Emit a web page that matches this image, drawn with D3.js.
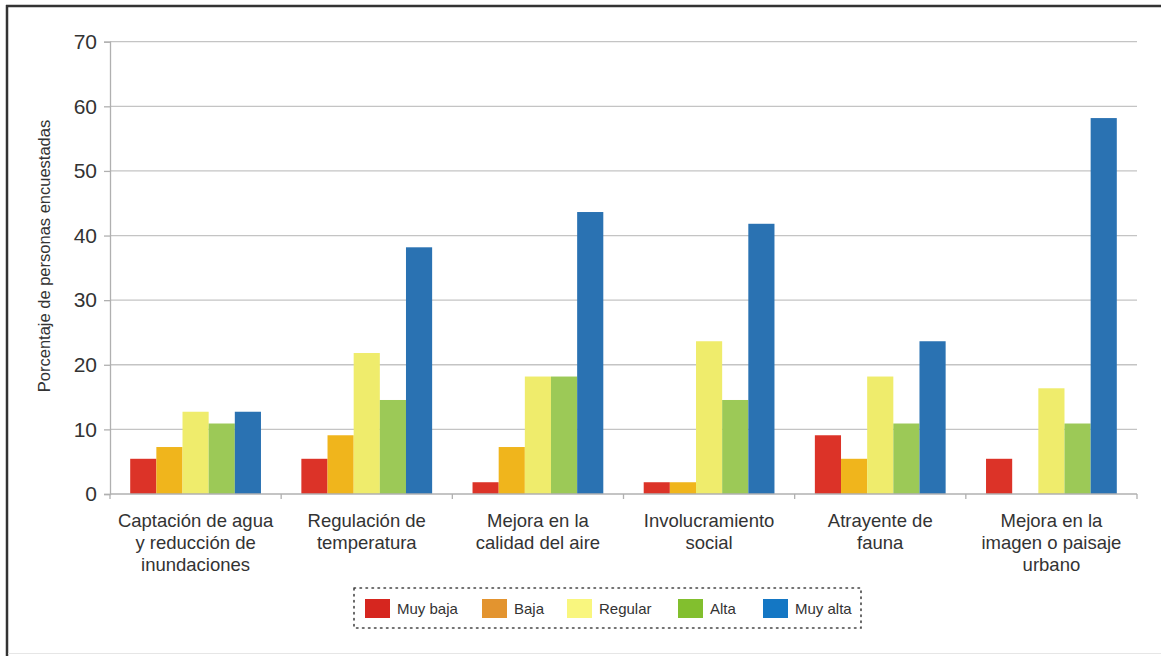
<!DOCTYPE html>
<html>
<head>
<meta charset="utf-8">
<script src="https://cdn.jsdelivr.net/npm/d3@7"></script>
<style>
  html, body { margin: 0; padding: 0; background: #fff; }
  svg { display: block; font-family: "Liberation Sans", Arial, sans-serif; }
</style>
</head>
<body>
<svg id="chart" width="1161" height="656"></svg>
<script>
// Beneficios percibidos de la infraestructura verde (porcentaje de personas encuestadas)
const categories = [
  ["Captación de agua", "y reducción de", "inundaciones"],
  ["Regulación de", "temperatura"],
  ["Mejora en la", "calidad del aire"],
  ["Involucramiento", "social"],
  ["Atrayente de", "fauna"],
  ["Mejora en la", "imagen o paisaje", "urbano"]
];
const seriesNames = ["Muy baja", "Baja", "Regular", "Alta", "Muy alta"];
const muyBaja = [5.45, 5.45, 1.82, 1.82, 9.09, 5.45];
const baja    = [7.27, 9.09, 7.27, 1.82, 5.45, 0];
const regular = [12.73, 21.82, 18.18, 23.64, 18.18, 16.36];
const alta    = [10.91, 14.55, 18.18, 14.55, 10.91, 10.91];
const muyAlta = [12.73, 38.18, 43.64, 41.82, 23.64, 58.18];
const yTicks = [0, 10, 20, 30, 40, 50, 60, 70];
const barColors = ["#dc3328", "#f0b51c", "#efec6c", "#9cc957", "#2a72b2"];
const legendColors = ["#d6261f", "#e3942f", "#f9f67e", "#82bf2e", "#1477c4"];

const seriesValues = [muyBaja, baja, regular, alta, muyAlta];
const yLabel = "Porcentaje de personas encuestadas";

const svg = d3.select("#chart");
const W = 1161, H = 656;
const plot = { left: 110, right: 1137, top: 41.7, bottom: 494 };

// outer frame
svg.append("line").attr("x1", 7).attr("x2", 7).attr("y1", 5).attr("y2", H)
  .attr("stroke", "#333").attr("stroke-width", 2.5);
svg.append("line").attr("x1", 6).attr("x2", W).attr("y1", 6).attr("y2", 6)
  .attr("stroke", "#333").attr("stroke-width", 2.5);
svg.append("line").attr("x1", 8).attr("x2", W).attr("y1", 653.5).attr("y2", 653.5)
  .attr("stroke", "#e6e6e6").attr("stroke-width", 1);

const catIdx = categories.map((d, i) => i);
const x0 = d3.scaleBand().domain(catIdx).range([plot.left, plot.right]).padding(0);
const pad = x0.bandwidth() * 0.118;
const x1 = d3.scaleBand().domain(seriesNames).range([pad, x0.bandwidth() - pad]).padding(0);
const y = d3.scaleLinear().domain([0, 70]).range([plot.bottom, plot.top]);

// horizontal gridlines
svg.append("g")
  .selectAll("line").data(yTicks.filter(t => t > 0)).join("line")
  .attr("x1", plot.left).attr("x2", plot.right)
  .attr("y1", d => y(d)).attr("y2", d => y(d))
  .attr("stroke", "#c4c4c4").attr("stroke-width", 1.3);

// y axis
const yAxis = svg.append("g")
  .attr("transform", `translate(${plot.left},0)`)
  .call(d3.axisLeft(y).tickValues(yTicks).tickSize(6).tickPadding(7));
yAxis.select(".domain").attr("stroke", "#b0b0b0").attr("stroke-width", 1.3);
yAxis.selectAll(".tick line").attr("stroke", "#b0b0b0").attr("stroke-width", 1.3);
yAxis.selectAll(".tick text")
  .attr("font-size", 21).attr("fill", "#333")
  .attr("font-family", "Liberation Sans, Arial, sans-serif");

// y axis title
svg.append("text")
  .attr("transform", `translate(50,${(118 + 394) / 2}) rotate(-90)`)
  .attr("text-anchor", "middle")
  .attr("font-size", 16.5).attr("fill", "#333")
  .text(yLabel);

// bars
const groups = svg.append("g").selectAll("g").data(catIdx).join("g")
  .attr("transform", i => `translate(${x0(i)},0)`);
groups.selectAll("rect")
  .data(i => seriesNames.map((s, k) => ({ s, k, v: seriesValues[k][i] })))
  .join("rect")
  .attr("x", d => x1(d.s))
  .attr("width", x1.bandwidth())
  .attr("y", d => y(d.v))
  .attr("height", d => y(0) - y(d.v))
  .attr("fill", d => barColors[d.k]);

// x axis
const xAxis = svg.append("g")
  .attr("transform", `translate(0,${plot.bottom})`);
xAxis.append("line").attr("x1", plot.left).attr("x2", plot.right)
  .attr("stroke", "#b0b0b0").attr("stroke-width", 1.3);
const bounds = catIdx.map(i => x0(i)).concat([plot.right]);
xAxis.selectAll("line.tick").data(bounds).join("line")
  .attr("class", "tick")
  .attr("x1", d => d).attr("x2", d => d).attr("y1", 0).attr("y2", 5)
  .attr("stroke", "#b0b0b0").attr("stroke-width", 1.3);

// category labels
const labels = svg.append("g").selectAll("text").data(catIdx).join("text")
  .attr("text-anchor", "middle")
  .attr("font-size", 18.5).attr("fill", "#333");
labels.each(function (i) {
  const t = d3.select(this);
  categories[i].forEach((line, j) => {
    t.append("tspan")
      .attr("x", x0(i) + x0.bandwidth() / 2)
      .attr("y", 527 + j * 22)
      .text(line);
  });
});

// legend
const legend = svg.append("g");
legend.append("rect")
  .attr("x", 354).attr("y", 588).attr("width", 507).attr("height", 40)
  .attr("fill", "none").attr("stroke", "#444").attr("stroke-width", 1.6)
  .attr("stroke-dasharray", "1.5 4.5").attr("stroke-linecap", "round");
const legendX = [365, 482, 567, 678, 763];
const items = legend.selectAll("g.item").data(seriesNames).join("g")
  .attr("class", "item")
  .attr("transform", (d, k) => `translate(${legendX[k]},599)`);
items.append("rect").attr("width", 25).attr("height", 19)
  .attr("fill", (d, k) => legendColors[k]);
items.append("text").attr("x", 32).attr("y", 15)
  .attr("font-size", 15).attr("fill", "#333")
  .text(d => d);
</script>
</body>
</html>
